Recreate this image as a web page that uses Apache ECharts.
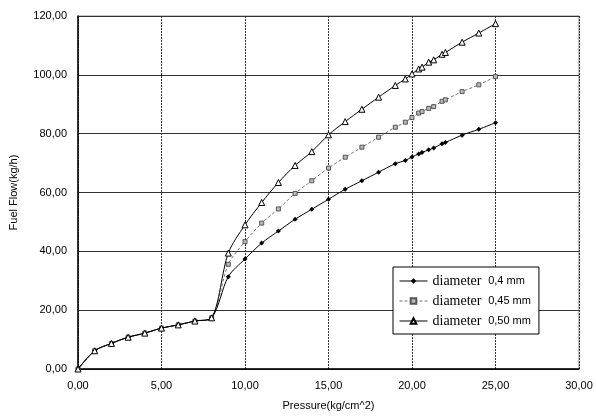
<!DOCTYPE html>
<html>
<head>
<meta charset="utf-8">
<script src="https://cdn.jsdelivr.net/npm/echarts@6/dist/echarts.min.js"></script>
<style>
  html, body { margin: 0; padding: 0; background: #fff; }
  #main { width: 596px; height: 416px; }
</style>
</head>
<body>
<div id="main"></div>
<script>
// pressure values (kg/cm^2), shared by all three series
const pressure = [0, 1, 2, 3, 4, 5, 6, 7, 8, 9, 10, 11, 12, 13, 14, 15, 16, 17, 18, 19,
    19.6, 20, 20.4, 20.6, 21, 21.3, 21.8, 22, 23, 24, 25]

// fuel flow (kg/h)
const flow04 = [0, 6.2, 8.7, 10.8, 12.2, 13.9, 15.0, 16.3, 17.4, 31.4, 37.4, 42.8, 46.9, 50.9, 54.3, 57.7,
    61.1, 64.0, 66.9, 69.8, 70.9, 72.1, 73.1, 73.6, 74.5, 75.1, 76.6, 77.0, 79.5, 81.5, 83.7]
const flow045 = [0, 6.2, 8.7, 10.8, 12.2, 13.9, 15.0, 16.3, 17.4, 35.6, 43.3, 49.6, 54.4, 59.7, 64.0, 68.3,
    72.0, 75.4, 78.8, 82.2, 83.9, 85.5, 87.0, 87.5, 88.6, 89.2, 91.0, 91.5, 94.3, 96.6, 99.4]
const flow050 = [0, 6.2, 8.7, 10.8, 12.2, 13.9, 15.0, 16.3, 17.4, 39.4, 49.0, 56.6, 63.4, 69.2, 73.9, 79.6,
    84.1, 88.3, 92.4, 96.4, 98.6, 100.3, 102.0, 102.6, 104.3, 105.1, 107.0, 107.6, 111.1, 114.2, 117.4]

const seriesNames = ['diameter 0,4 mm', 'diameter 0,45 mm', 'diameter 0,50 mm']

const xTicks = { min: 0, max: 30, interval: 5 }
const yTicks = { min: 0, max: 120, interval: 20 }

const fmt = v => v.toFixed(2).replace('.', ',')

function pairs(ys) {
    return pressure.map((x, i) => [x, ys[i]])
}

const chart = echarts.init(document.getElementById('main'))

const axisFont = { color: '#000', fontFamily: 'Liberation Sans', fontSize: 11 }

chart.setOption({
    animation: false,
    backgroundColor: '#fff',
    grid: {
        left: 75, right: 17, top: 16, bottom: 47,
        show: true, borderColor: '#888', borderWidth: 1
    },
    legend: {
        orient: 'vertical',
        left: 393, top: 267,
        width: 151, height: 66,
        padding: [7, 8, 6, 6],
        itemGap: 6,
        itemWidth: 28, itemHeight: 7,
        backgroundColor: '#fff',
        borderColor: '#000', borderWidth: 1,
        lineStyle: { width: 1 },
        data: seriesNames,
        formatter: name => {
            const parts = name.split(' ')
            return '{a|' + parts[0] + '}  {b|' + parts.slice(1).join(' ') + '}'
        },
        textStyle: {
            rich: {
                a: { fontFamily: 'Liberation Serif', fontSize: 14, color: '#000' },
                b: { fontFamily: 'Liberation Sans', fontSize: 11, color: '#000' }
            }
        }
    },
    xAxis: {
        type: 'value',
        min: xTicks.min, max: xTicks.max, interval: xTicks.interval,
        name: 'Pressure(kg/cm^2)',
        nameLocation: 'middle', nameGap: 31,
        nameTextStyle: axisFont,
        axisLine: { lineStyle: { color: '#000', width: 1.5 } },
        axisTick: { show: false },
        axisLabel: Object.assign({ formatter: fmt, margin: 11 }, axisFont),
        splitLine: { lineStyle: { color: '#333', width: 1, type: [2, 1] } }
    },
    yAxis: {
        type: 'value',
        min: yTicks.min, max: yTicks.max, interval: yTicks.interval,
        name: 'Fuel Flow(kg/h)',
        nameLocation: 'middle', nameGap: 59,
        nameTextStyle: axisFont,
        axisLine: { show: true, lineStyle: { color: '#000', width: 1.5 } },
        axisTick: { show: false },
        axisLabel: Object.assign({ formatter: fmt, margin: 11 }, axisFont),
        splitLine: { lineStyle: { color: '#333', width: 1 } }
    },
    series: [
        {
            name: seriesNames[0],
            type: 'line',
            data: pairs(flow04),
            smooth: 0.3,
            symbol: 'diamond', symbolSize: 5,
            itemStyle: { color: '#000' },
            lineStyle: { color: '#000', width: 1 },
            z: 3
        },
        {
            name: seriesNames[1],
            type: 'line',
            data: pairs(flow045),
            smooth: 0.3,
            symbol: 'rect', symbolSize: 4,
            itemStyle: { color: '#bbb', borderColor: '#555', borderWidth: 1 },
            lineStyle: { color: '#777', width: 1, type: [3, 2] },
            z: 2
        },
        {
            name: seriesNames[2],
            type: 'line',
            data: pairs(flow050),
            smooth: 0.3,
            symbol: 'triangle', symbolSize: 6,
            itemStyle: { color: '#fff', borderColor: '#000', borderWidth: 1 },
            lineStyle: { color: '#000', width: 1 },
            z: 4
        }
    ]
})
</script>
</body>
</html>
